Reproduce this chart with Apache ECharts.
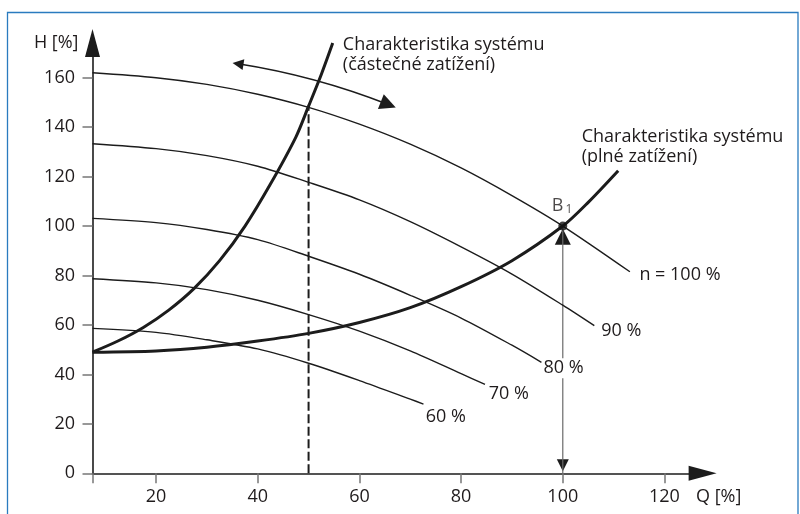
<!DOCTYPE html>
<html>
<head>
<meta charset="utf-8">
<script src="https://cdn.jsdelivr.net/npm/echarts@6/dist/echarts.min.js"></script>
<style>
  html, body { margin: 0; padding: 0; background: #fff; }
  #chart { width: 800px; height: 514px; }
</style>
</head>
<body>
<div id="chart"></div>
<script>
// Axis ranges and tick positions (Q = flow rate, H = head, both in %)
const qRange = [7.5, 127.5];
const hRange = [0, 174];
const qTicks = [7.5, 20, 40, 60, 80, 100, 120];
const qLabels = [20, 40, 60, 80, 100, 120];
const hTicks = [0, 20, 40, 60, 80, 100, 120, 140, 160];

// Pump curves at speed n
const q100 = [7.5, 20, 30, 40, 50, 60, 70, 80, 90, 100, 113.2];
const h100 = [162, 160, 157.3, 153.3, 148, 141.2, 133.1, 123.5, 112.3, 100, 81.5];
const q90 = [7.5, 20, 30, 40, 50, 60, 70, 80, 90, 100, 106.2];
const h90 = [133.3, 131.3, 128.5, 124.2, 117.7, 110.6, 101.8, 91.6, 80.6, 68, 59.7];
const q80 = [7.5, 20, 30, 40, 50, 60, 70, 80, 90, 95.8];
const h80 = [103.1, 101.4, 98.6, 94.5, 87.8, 80.5, 72, 62.8, 51.8, 44.9];
const q70 = [7.5, 20, 30, 40, 50, 60, 70, 80, 84.7];
const h70 = [78.7, 77, 74.3, 70, 64.2, 57.5, 49.5, 40.3, 36];
const q60 = [7.5, 20, 30, 40, 50, 60, 70, 72.6];
const h60 = [58.6, 57, 54, 50.3, 44.5, 37.5, 30, 28];

// System curves
const partQ = [7.5, 12.5, 17.5, 22.5, 27.5, 32.5, 37.5, 42.5, 47.5, 50, 52.5, 54.75];
const partH = [49, 53.5, 59, 66, 74.8, 86, 100, 117, 136, 148.5, 161.3, 174];
const fullQ = [7.5, 20, 30, 40, 50, 60, 70, 80, 90, 100, 105, 110.9];
const fullH = [49, 49.5, 51, 53.5, 56.6, 61, 67, 75.5, 86, 100, 109.6, 122.4];

// Operating point B1 and the partial-load flow
const opPoint = [100, 100];
const partLoad = [50, 148.5];

// Speed-change arrow (tip to tip)
const speedArrow = [[34.6, 166.5], [67.2, 148.3]];

// Text
const speedLabels = ['n = 100 %', '90 %', '80 %', '70 %', '60 %'];
const partText = ['Charakteristika systému', '(částečné zatížení)'];
const fullText = ['Charakteristika systému', '(plné zatížení)'];

const W = 800, H = 514;
const grid = { left: 92.5, right: 97.4, top: 43.1, bottom: 40.7 };
const pxPerQ = (W - grid.left - grid.right) / (qRange[1] - qRange[0]);
const pxPerH = (H - grid.top - grid.bottom) / (hRange[1] - hRange[0]);

const ink = '#1c1c1c';
const textColor = '#1f1b1c';
const font = 'Open Sans';
const fs = 18;

const pairs = (qs, hs) => qs.map((q, i) => [q, hs[i]]);
const last = a => a[a.length - 1];

// Pull the ends of a segment inward (pixels), so a centred arrowhead ends at the tip
function pullIn(a, b, lenA, lenB) {
  const dx = (b[0] - a[0]) * pxPerQ, dy = (b[1] - a[1]) * pxPerH;
  const d = Math.hypot(dx, dy);
  const ux = dx / d, uy = dy / d;
  return [
    [a[0] + ux * lenA / pxPerQ, a[1] + uy * lenA / pxPerH],
    [b[0] - ux * lenB / pxPerQ, b[1] - uy * lenB / pxPerH]
  ];
}

function endText(qs, hs, text, offset, extra) {
  return {
    symbol: 'circle', symbolSize: 1, silent: true, animation: false,
    itemStyle: { color: 'rgba(0,0,0,0)' },
    data: [{
      coord: [last(qs), last(hs)],
      label: Object.assign({
        show: true, formatter: text, position: offset,
        align: 'left', verticalAlign: 'middle',
        color: textColor, fontFamily: font, fontSize: fs
      }, extra || {})
    }]
  };
}

function pumpCurve(qs, hs, text, offset, extra) {
  return {
    type: 'line', data: pairs(qs, hs), smooth: 0.3,
    symbol: 'none', silent: true, z: 3,
    lineStyle: { color: ink, width: 1.4 },
    markPoint: endText(qs, hs, text, offset, extra)
  };
}

function systemCurve(qs, hs, lines, offset) {
  return {
    type: 'line', data: pairs(qs, hs), smooth: 0.3,
    symbol: 'none', silent: true, z: 4,
    lineStyle: { color: ink, width: 3 },
    markPoint: endText(qs, hs, lines.join('\n'), offset, { lineHeight: 20 })
  };
}

const vArrowHead = [12, 16];
const vArrow = pullIn([opPoint[0], hRange[0]], opPoint, vArrowHead[1] / 2, vArrowHead[1] / 2 + 2.6);
const arcHead = [11, 16];
const arc = pullIn(speedArrow[0], speedArrow[1], arcHead[1] / 2, arcHead[1] / 2);

const chart = echarts.init(document.getElementById('chart'), null, { renderer: 'canvas' });
chart.setOption({
  animation: false,
  backgroundColor: '#fff',
  grid: Object.assign({ outerBoundsMode: 'none' }, grid),
  graphic: [{
    type: 'rect', silent: true, z: 0,
    shape: { x: 7.5, y: 12.5, width: 790.5, height: 540 },
    style: { fill: 'none', stroke: '#2a7bbf', lineWidth: 1.3 }
  }],
  xAxis: {
    type: 'value', min: qRange[0], max: qRange[1],
    name: 'Q [%]', nameLocation: 'end', nameGap: -6.6, nameMoveOverlap: false,
    nameTextStyle: { align: 'left', verticalAlign: 'top', padding: [15, 0, 0, 0], color: textColor, fontFamily: font, fontSize: fs },
    axisLine: { show: true, lineStyle: { color: ink, width: 1.6 }, symbol: ['none', 'triangle'], symbolSize: [15, 28] },
    axisTick: { show: true, customValues: qTicks, length: 10, lineStyle: { color: '#777', width: 1.5 } },
    axisLabel: { customValues: qLabels, margin: 15, color: textColor, fontFamily: font, fontSize: fs },
    splitLine: { show: false }
  },
  yAxis: {
    type: 'value', min: hRange[0], max: hRange[1],
    name: 'H [%]', nameLocation: 'end', nameGap: 0, nameMoveOverlap: false,
    nameTextStyle: { align: 'right', verticalAlign: 'middle', padding: [0, 14, 0, 0], color: textColor, fontFamily: font, fontSize: fs },
    axisLine: { show: true, lineStyle: { color: ink, width: 1.6 }, symbol: ['none', 'triangle'], symbolSize: [15, 28] },
    axisTick: { show: true, customValues: hTicks, length: 10, lineStyle: { color: '#777', width: 1.5 } },
    axisLabel: { customValues: hTicks, margin: 17.5, color: textColor, fontFamily: font, fontSize: fs },
    splitLine: { show: false }
  },
  series: [
    pumpCurve(q100, h100, speedLabels[0], [10, 3.5]),
    pumpCurve(q90, h90, speedLabels[1], [7.4, 6]),
    pumpCurve(q80, h80, speedLabels[2], [1.5, 6.5], { backgroundColor: '#fff', padding: [1, 1, 1, 1] }),
    pumpCurve(q70, h70, speedLabels[3], [4.3, 9.7]),
    pumpCurve(q60, h60, speedLabels[4], [2.7, 13.5]),
    systemCurve(partQ, partH, partText, [10.6, 12.2]),
    systemCurve(fullQ, fullH, fullText, [-36, -23]),
    // Partial-load flow marker
    {
      type: 'line', data: [[partLoad[0], hRange[0]], partLoad], symbol: 'none', silent: true, z: 2,
      lineStyle: { color: ink, width: 2, type: [9, 3.5] }
    },
    // Head at the operating point: shaft
    {
      type: 'line', data: [[opPoint[0], hRange[0]], opPoint], symbol: 'none', silent: true, z: 2,
      lineStyle: { color: '#6a6a6a', width: 1.2 }
    },
    // Head at the operating point: arrowheads
    {
      type: 'lines', coordinateSystem: 'cartesian2d', silent: true, z: 2,
      symbol: ['triangle', 'triangle'], symbolSize: vArrowHead,
      lineStyle: { color: ink, width: 0, opacity: 1 },
      data: [{ coords: vArrow }]
    },
    // Speed-change arrow
    {
      type: 'lines', coordinateSystem: 'cartesian2d', silent: true, z: 5,
      symbol: ['triangle', 'triangle'], symbolSize: arcHead,
      lineStyle: { color: ink, width: 1.6, curveness: 0.055, opacity: 1 },
      data: [{ coords: arc }]
    },
    // Operating point B1
    {
      type: 'scatter', data: [opPoint], symbol: 'circle', symbolSize: 9, silent: true, z: 6,
      itemStyle: { color: '#111' },
      label: {
        show: true, position: [-6.5, -16], align: 'left', verticalAlign: 'middle',
        formatter: '{b|B}{s|1}',
        rich: {
          b: { fontFamily: font, fontSize: fs, color: textColor },
          s: { fontFamily: font, fontSize: 12, color: textColor, padding: [9, 0, 0, 2] }
        }
      }
    }
  ]
});
</script>
</body>
</html>
